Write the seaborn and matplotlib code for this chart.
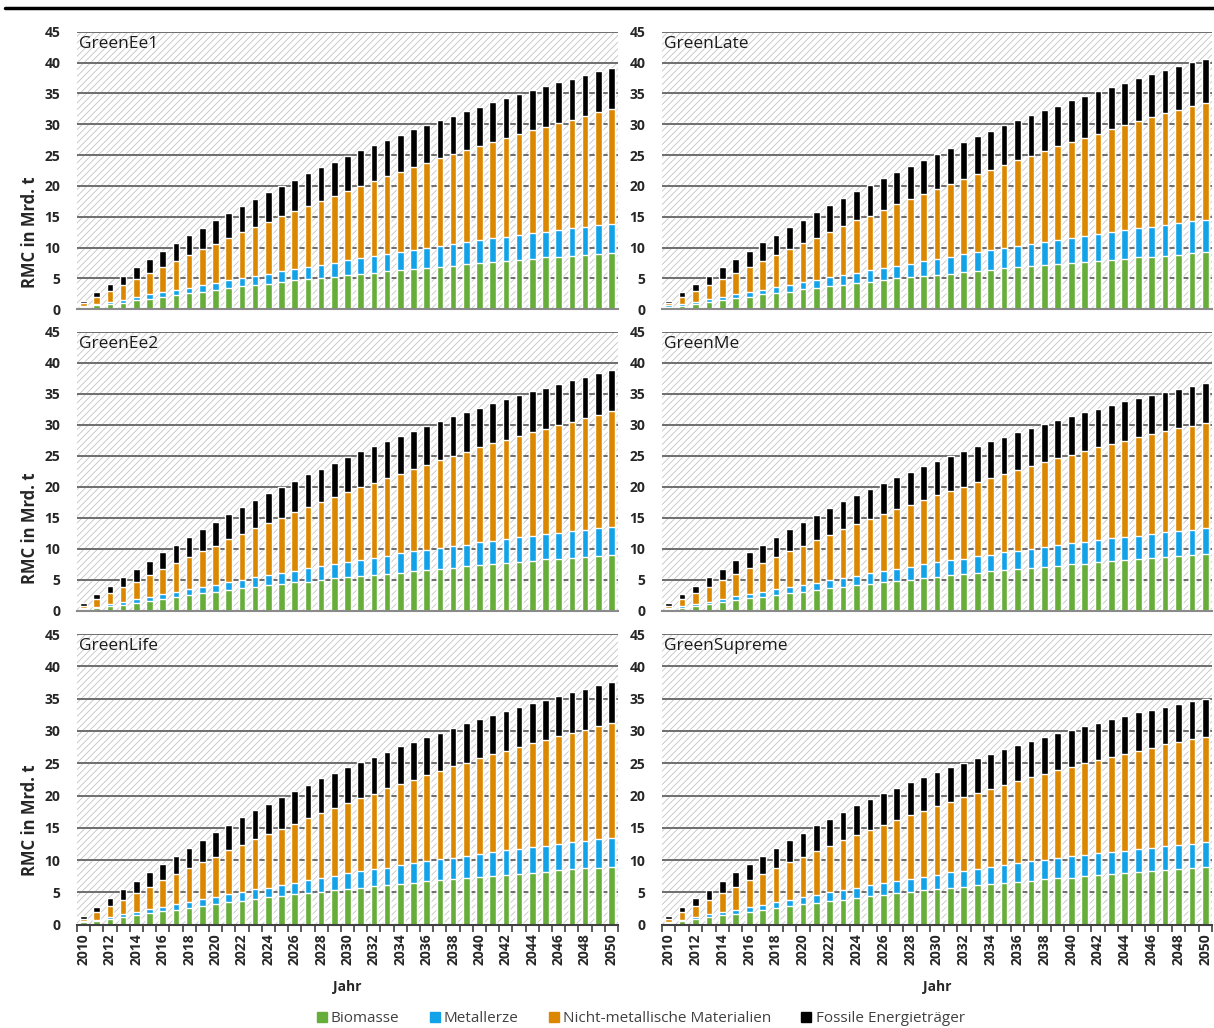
import numpy as np
import matplotlib
matplotlib.use("Agg")
import matplotlib.pyplot as plt
from matplotlib.patches import Rectangle
from matplotlib.lines import Line2D
import seaborn as sns

sns.set_style("white")
plt.rcParams['font.family'] = ['Open Sans', 'DejaVu Sans']
plt.rcParams['hatch.linewidth'] = 0.6

years = [str(y) for y in range(2010, 2051)]
layers = ['Biomasse', 'Metallerze', 'Nicht-metallische Materialien', 'Fossile Energieträger']
colors = ['#66ad3a', '#12a2e8', '#dc8700', '#000000']

# upper edge of each layer in the stack (Mrd. t)
ee1_bio = [0.4,0.7,0.8,1.1,1.45,1.75,2.0,2.3,2.6,2.85,3.15,3.45,3.7,3.95,4.15,4.5,4.7,4.9,5.15,5.3,5.5,5.75,5.95,6.15,6.4,6.55,6.75,6.9,7.1,7.3,7.5,7.7,7.85,8.05,8.2,8.4,8.55,8.7,8.85,9.0,9.2]
ee1_met = [0.6,0.9,1.2,1.55,2.0,2.4,2.75,3.15,3.5,3.9,4.3,4.7,5.0,5.35,5.75,6.15,6.5,6.85,7.25,7.55,7.95,8.3,8.65,9.0,9.35,9.6,9.95,10.25,10.6,10.9,11.25,11.5,11.8,12.05,12.3,12.6,12.85,13.15,13.35,13.6,13.9]
ee1_nmm = [1.0,2.0,2.9,3.9,4.85,5.9,6.8,7.85,8.75,9.7,10.65,11.55,12.5,13.3,14.15,15.1,15.95,16.8,17.55,18.4,19.2,20.0,20.75,21.55,22.3,23.0,23.75,24.45,25.15,25.8,26.5,27.15,27.8,28.45,29.0,29.6,30.2,30.75,31.35,31.95,32.5]
ee1_fos = [1.35,2.75,4.15,5.45,6.8,8.15,9.45,10.8,12.0,13.25,14.45,15.6,16.8,17.9,19.0,20.0,21.0,22.05,23.0,23.9,24.9,25.8,26.65,27.5,28.3,29.15,29.9,30.7,31.4,32.15,32.85,33.55,34.2,34.9,35.5,36.15,36.8,37.35,37.95,38.55,39.1]

late_bio = [0.45,0.6,0.85,1.15,1.45,1.8,2.05,2.4,2.65,2.85,3.25,3.45,3.75,4.0,4.2,4.5,4.8,5.0,5.2,5.35,5.6,5.8,6.05,6.2,6.45,6.65,6.8,7.0,7.2,7.35,7.5,7.7,7.9,8.05,8.2,8.4,8.55,8.7,8.85,9.05,9.25]
late_met = [0.65,0.85,1.2,1.6,2.05,2.5,2.8,3.2,3.55,3.95,4.4,4.8,5.2,5.5,5.95,6.3,6.7,7.1,7.4,7.8,8.2,8.5,8.9,9.25,9.6,9.9,10.2,10.6,10.9,11.25,11.55,11.9,12.2,12.55,12.8,13.15,13.4,13.7,14.0,14.25,14.55]
late_nmm = [1.0,2.0,2.9,3.95,4.9,5.9,6.85,7.9,8.75,9.8,10.7,11.6,12.6,13.45,14.4,15.2,16.05,17.0,17.8,18.65,19.45,20.25,21.1,21.9,22.65,23.45,24.15,24.9,25.6,26.4,27.1,27.8,28.45,29.15,29.8,30.45,31.1,31.75,32.3,32.9,33.5]
late_fos = [1.35,2.75,4.15,5.45,6.8,8.15,9.5,10.85,12.05,13.3,14.55,15.75,16.9,18.05,19.15,20.2,21.3,22.3,23.3,24.25,25.25,26.15,27.15,28.05,28.9,29.8,30.65,31.45,32.25,33.0,33.85,34.6,35.35,36.05,36.75,37.45,38.15,38.8,39.45,40.1,40.65]

ee2_bio = [0.3,0.45,0.75,1.0,1.3,1.6,1.9,2.2,2.5,2.85,3.1,3.4,3.65,3.85,4.15,4.35,4.6,4.75,5.0,5.25,5.4,5.65,5.8,6.0,6.2,6.45,6.65,6.8,7.0,7.25,7.45,7.6,7.75,7.95,8.1,8.3,8.4,8.6,8.75,8.9,9.1]
ee2_met = [0.45,0.7,1.15,1.5,1.9,2.3,2.75,3.1,3.5,3.85,4.25,4.65,5.05,5.4,5.75,6.1,6.5,6.85,7.25,7.55,7.95,8.25,8.5,8.9,9.3,9.6,9.85,10.15,10.4,10.7,11.05,11.3,11.6,11.85,12.1,12.4,12.6,12.85,13.1,13.35,13.55]
ee2_nmm = [0.85,1.9,2.85,3.8,4.75,5.8,6.75,7.7,8.7,9.65,10.55,11.55,12.4,13.3,14.2,15.05,15.9,16.7,17.55,18.35,19.15,19.9,20.65,21.45,22.15,22.85,23.6,24.3,24.95,25.65,26.35,27.0,27.55,28.2,28.8,29.4,29.9,30.5,31.05,31.6,32.15]
ee2_fos = [1.25,2.7,4.0,5.4,6.75,8.1,9.45,10.7,11.95,13.15,14.35,15.6,16.75,17.85,18.95,19.95,20.95,22.0,22.95,23.9,24.8,25.7,26.55,27.4,28.25,29.05,29.85,30.6,31.35,32.05,32.75,33.45,34.1,34.8,35.4,36.0,36.6,37.15,37.7,38.3,38.85]

me_bio = [0.25,0.55,0.8,1.05,1.4,1.7,2.05,2.3,2.55,2.9,3.1,3.4,3.65,3.9,4.15,4.4,4.65,4.85,5.05,5.25,5.5,5.75,5.95,6.15,6.4,6.55,6.75,6.9,7.15,7.3,7.5,7.65,7.85,8.05,8.2,8.35,8.5,8.7,8.85,9.0,9.2]
me_met = [0.45,0.8,1.2,1.5,1.95,2.4,2.8,3.1,3.5,3.85,4.25,4.55,4.95,5.3,5.7,6.05,6.45,6.75,7.15,7.5,7.85,8.15,8.45,8.8,9.1,9.45,9.7,10.05,10.3,10.6,10.9,11.15,11.4,11.7,11.95,12.15,12.45,12.65,12.85,13.1,13.3]
me_nmm = [0.85,2.0,2.85,3.85,4.95,5.9,6.85,7.8,8.75,9.7,10.55,11.5,12.3,13.15,14.0,14.85,15.65,16.4,17.15,17.9,18.65,19.35,20.05,20.75,21.45,22.1,22.75,23.4,24.0,24.6,25.2,25.8,26.4,26.9,27.45,28.0,28.45,29.0,29.5,29.85,30.3]
me_fos = [1.3,2.8,4.05,5.45,6.8,8.15,9.45,10.7,11.95,13.15,14.3,15.5,16.55,17.65,18.7,19.7,20.65,21.55,22.45,23.3,24.2,25.0,25.8,26.6,27.35,28.1,28.8,29.5,30.15,30.8,31.4,32.05,32.6,33.2,33.8,34.3,34.8,35.35,35.8,36.25,36.75]

life_bio = [0.35,0.55,0.9,1.15,1.45,1.75,2.05,2.3,2.65,2.9,3.15,3.45,3.7,3.95,4.25,4.5,4.7,4.9,5.1,5.3,5.55,5.75,6.0,6.15,6.35,6.5,6.7,6.85,7.05,7.2,7.4,7.6,7.75,7.9,8.05,8.2,8.4,8.55,8.7,8.85,9.0]
life_met = [0.5,0.8,1.25,1.6,2.0,2.4,2.8,3.2,3.55,3.95,4.35,4.7,5.1,5.45,5.75,6.15,6.5,6.85,7.25,7.6,7.95,8.25,8.55,8.85,9.2,9.55,9.85,10.1,10.35,10.65,11.0,11.25,11.5,11.75,12.0,12.25,12.45,12.75,13.0,13.2,13.4]
life_nmm = [0.95,2.0,2.95,3.9,4.85,5.8,6.85,7.8,8.75,9.65,10.55,11.5,12.3,13.2,14.05,14.85,15.65,16.5,17.3,18.05,18.85,19.6,20.3,21.1,21.8,22.45,23.2,23.85,24.5,25.1,25.75,26.4,26.95,27.55,28.1,28.65,29.2,29.75,30.2,30.7,31.25]
life_fos = [1.35,2.8,4.1,5.45,6.75,8.1,9.45,10.65,11.95,13.15,14.35,15.5,16.6,17.7,18.7,19.8,20.75,21.7,22.65,23.5,24.4,25.2,26.0,26.8,27.6,28.3,29.0,29.75,30.45,31.15,31.8,32.4,33.05,33.65,34.3,34.85,35.4,36.0,36.55,37.05,37.6]

sup_bio = [0.25,0.55,0.9,1.15,1.45,1.7,2.0,2.25,2.6,2.9,3.15,3.4,3.65,3.9,4.2,4.45,4.65,4.9,5.1,5.3,5.5,5.7,5.9,6.1,6.25,6.45,6.65,6.8,7.0,7.2,7.3,7.55,7.7,7.85,8.0,8.15,8.3,8.45,8.6,8.7,8.95]
sup_met = [0.45,0.8,1.25,1.6,1.95,2.3,2.75,3.1,3.45,3.9,4.3,4.65,5.0,5.35,5.7,6.1,6.4,6.75,7.1,7.45,7.75,8.1,8.35,8.65,8.9,9.25,9.55,9.8,10.05,10.3,10.6,10.8,11.05,11.25,11.45,11.75,11.95,12.15,12.35,12.55,12.75]
sup_nmm = [0.95,1.95,2.95,3.9,4.9,5.9,6.85,7.8,8.7,9.65,10.55,11.35,12.2,13.05,13.9,14.65,15.45,16.2,16.95,17.65,18.35,19.05,19.7,20.35,21.0,21.6,22.2,22.8,23.35,23.9,24.45,25.0,25.5,26.0,26.5,26.95,27.4,27.9,28.3,28.7,29.1]
sup_fos = [1.35,2.75,4.1,5.4,6.75,8.15,9.45,10.7,11.9,13.1,14.25,15.4,16.4,17.5,18.5,19.4,20.35,21.2,22.05,22.85,23.65,24.35,25.1,25.8,26.5,27.2,27.85,28.45,29.0,29.65,30.2,30.75,31.3,31.8,32.3,32.85,33.3,33.75,34.2,34.6,35.0]

panels = [
    ('GreenEe1', [ee1_bio, ee1_met, ee1_nmm, ee1_fos]),
    ('GreenLate', [late_bio, late_met, late_nmm, late_fos]),
    ('GreenEe2', [ee2_bio, ee2_met, ee2_nmm, ee2_fos]),
    ('GreenMe', [me_bio, me_met, me_nmm, me_fos]),
    ('GreenLife', [life_bio, life_met, life_nmm, life_fos]),
    ('GreenSupreme', [sup_bio, sup_met, sup_nmm, sup_fos]),
]

W, H = 1214, 1028
fig = plt.figure(figsize=(W / 100, H / 100), dpi=100)

# axes boxes in pixels: left, right, top, bottom
cols = [(77, 618), (662, 1212)]
rows = [(31.7, 309.3), (331.7, 611), (634, 924.7)]

tick_color = '#262626'

for i, (name, tops) in enumerate(panels):
    r, c = divmod(i, 2)
    x0, x1 = cols[c]
    y0, y1 = rows[r]
    ax = fig.add_axes([x0 / W, 1 - y1 / H, (x1 - x0) / W, (y1 - y0) / H])

    ax.add_patch(Rectangle((0, 0), 1, 1, transform=ax.transAxes, facecolor='white',
                           edgecolor='#c4c4c4', hatch='/////', lw=0, zorder=0))

    # stacked bars: draw the tallest layer first, the others on top of it
    for vals, col in zip(tops[::-1], colors[::-1]):
        sns.barplot(x=years, y=vals, color=col, width=0.5, saturation=1,
                    ax=ax, zorder=3)

    ax.set_xlim(-0.5, 40.5)
    ax.set_ylim(0, 45)
    ax.set_yticks(range(0, 46, 5))
    ax.yaxis.grid(True, color='#6e6e6e', lw=1.4)
    ax.set_axisbelow(True)
    ax.tick_params(axis='y', length=0, pad=12, labelsize=10, labelcolor=tick_color)
    for lab in ax.get_yticklabels():
        lab.set_fontweight('bold')

    for s in ['top', 'left', 'right']:
        ax.spines[s].set_visible(False)
    ax.spines['bottom'].set_color('#8a8a8a')
    ax.spines['bottom'].set_linewidth(1.5)
    ax.spines['bottom'].set_zorder(5)
    ax.set_xlabel('')
    ax.set_ylabel('')

    if r == 2:
        ax.set_xticks(range(0, 41, 2))
        ax.set_xticklabels(years[::2], rotation=90, fontsize=10, fontweight='bold',
                           color=tick_color)
        ax.set_xticks(np.arange(-0.5, 41, 1), minor=True)
        ax.tick_params(axis='x', which='major', length=0, pad=6)
        ax.tick_params(axis='x', which='minor', length=5, width=1.2, color='#404040',
                       bottom=True)
        ax.spines['bottom'].set_color('#404040')
        ax.text(0.5, -0.215, 'Jahr', transform=ax.transAxes, ha='center', va='center',
                fontsize=10, fontweight='bold', color=tick_color)
    else:
        ax.set_xticks([])

    ax.text(0.004, 0.985, name, transform=ax.transAxes, ha='left', va='top',
            fontsize=12.5, color='#1a1a1a', zorder=6)

    if c == 0:
        ycen = {0: 232, 1: 528, 2: 820}[r]
        fig.text(30 / W, 1 - ycen / H, 'RMC in Mrd. t', rotation=90, ha='center',
                 va='center', fontsize=12, fontweight='bold', color=tick_color)

fig.add_artist(Line2D([5 / W, 1], [1 - 8 / H, 1 - 8 / H], color='black', lw=2.5))

handles = [Line2D([], [], marker='s', ls='', markersize=7, color=col) for col in colors]
fig.legend(handles, layers, loc='center', bbox_to_anchor=(0.526, 1 - 1019 / H), ncol=4,
           frameon=False, fontsize=11, handletextpad=0.0, columnspacing=1.7,
           handlelength=1.2, labelcolor='#404040')

fig.savefig('out.png', dpi=100)
